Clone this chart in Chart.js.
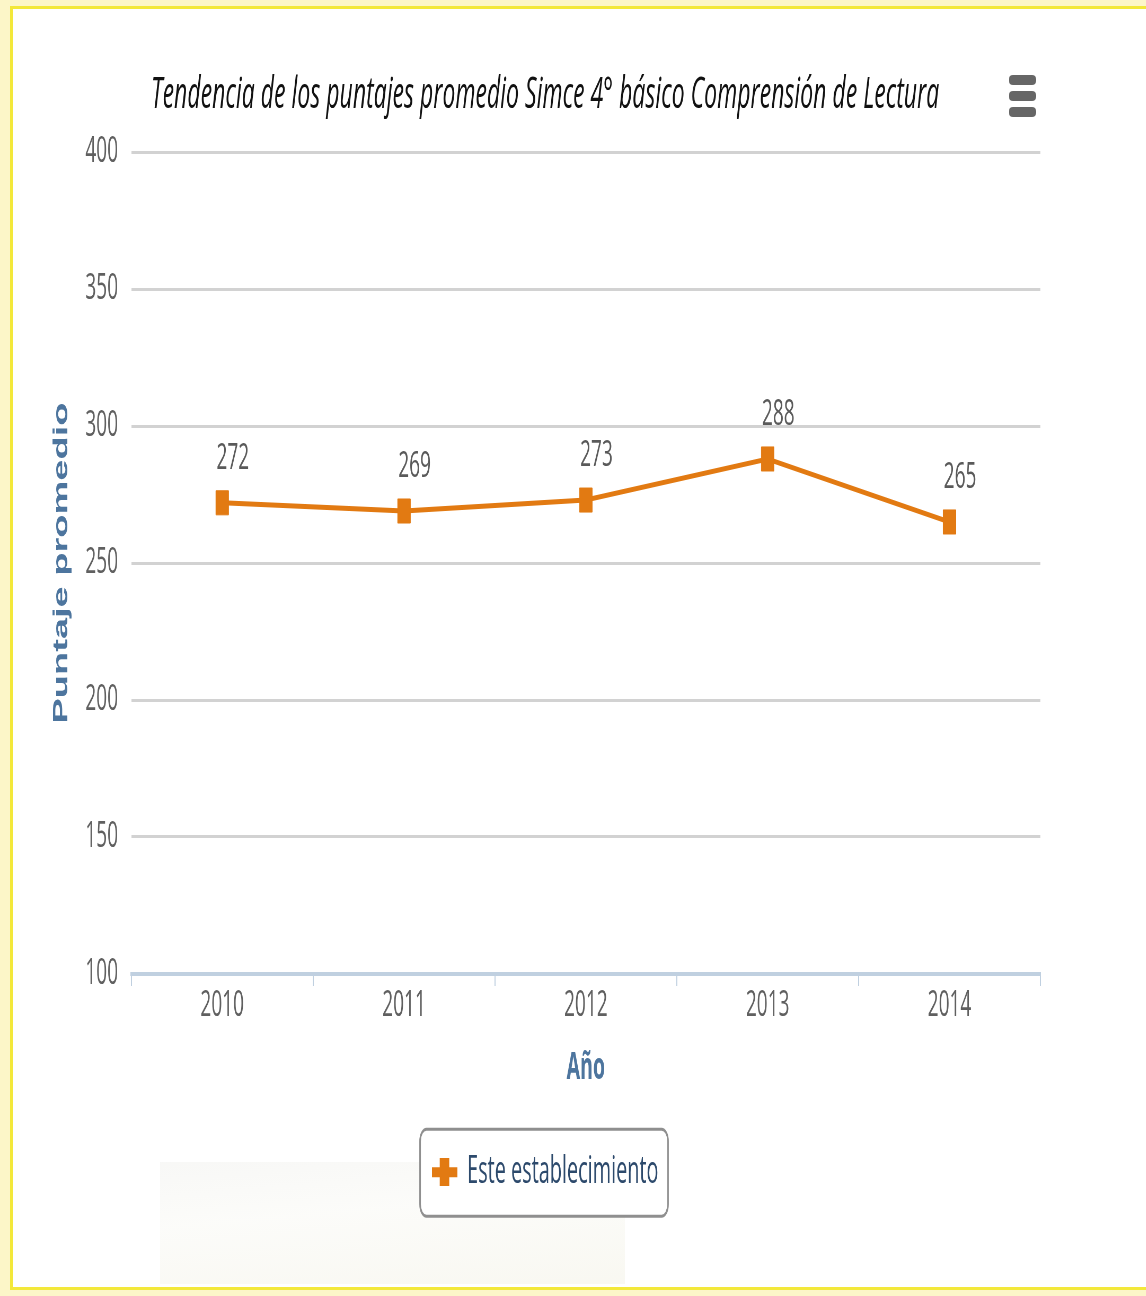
<!DOCTYPE html>
<html lang="es">
<head>
<meta charset="UTF-8">
<title>Tendencia Simce</title>
<script src="https://cdn.jsdelivr.net/npm/chart.js"></script>
<style>
    html, body { margin: 0; padding: 0; width: 1146px; height: 1296px; overflow: hidden; background: #fcf6c8; }
    #frame { position: absolute; left: 10px; top: 6px; width: 1150px; height: 1278px; background: #fff;
             border-left: 3px solid #f3e83a; border-top: 3px solid #f3e83a; border-bottom: 3px solid #f3e83a; }
    #ghost { position: absolute; left: 160px; top: 1162px; width: 465px; height: 122px;
             background: linear-gradient(175deg, #f6f6f4 0%, #fbfbf8 40%, #f7f6ee 100%); opacity: 0.8; }
    #wrap { position: absolute; left: 0; top: 0; width: 2162px; height: 1296px; transform: scaleX(0.53); transform-origin: 0 0; }
    #menu { position: absolute; left: 1009px; top: 75px; width: 27px; }
    #menu div { height: 10px; background: #666; border-radius: 4px; margin-bottom: 6px; }
</style>
</head>
<body>
<div id="frame"></div>
<div id="ghost"></div>
<div id="wrap"><canvas id="chart" width="2162" height="1296"></canvas></div>
<div id="menu"><div></div><div></div><div></div></div>
<script>
    const years = ['2010', '2011', '2012', '2013', '2014'];
    const scores = [272, 269, 273, 288, 265];
    const seriesName = 'Este establecimiento';
    const chartTitle = 'Tendencia de los puntajes promedio Simce 4° básico Comprensión de Lectura';

    const ORANGE = '#e27a12';
    const FONT = '"Open Sans", "Liberation Sans", sans-serif';

    // legend symbol: short line with a square marker, looks like a plus
    const sym = document.createElement('canvas');
    sym.width = 48; sym.height = 28;
    const sctx = sym.getContext('2d');
    sctx.fillStyle = ORANGE;
    sctx.fillRect(0, 9, 48, 10);
    sctx.fillRect(15, 0, 18, 28);

    const dataLabels = {
        id: 'dataLabels',
        afterDatasetsDraw(chart) {
            const ctx = chart.ctx;
            const meta = chart.getDatasetMeta(0);
            ctx.save();
            ctx.font = '36px ' + FONT;
            ctx.fillStyle = '#5a5a5a';
            ctx.textAlign = 'center';
            ctx.textBaseline = 'middle';
            meta.data.forEach((pt, i) => {
                ctx.fillText(String(scores[i]), pt.x + 20, pt.y - 44);
            });
            ctx.restore();
        }
    };

    function legendRect(chart) {
        const hb = chart.legend.legendHitBoxes[0];
        if (!hb) return null;
        const cy = hb.top + hb.height / 2;
        return { x: hb.left - 22, y: cy - 43, w: hb.width + 40, h: 87 };
    }

    const legendBorder = {
        id: 'legendBorder',
        beforeDraw(chart) {
            const r = legendRect(chart);
            if (!r) return;
            const ctx = chart.ctx;
            ctx.save();
            ctx.beginPath();
            ctx.roundRect(r.x, r.y, r.w, r.h, 12);
            ctx.fillStyle = '#fff';
            ctx.fill();
            ctx.restore();
        },
        afterDraw(chart) {
            const r = legendRect(chart);
            if (!r) return;
            const ctx = chart.ctx;
            ctx.save();
            ctx.beginPath();
            ctx.roundRect(r.x, r.y, r.w, r.h, 12);
            ctx.lineWidth = 3;
            ctx.strokeStyle = '#8f8f8f';
            ctx.stroke();
            ctx.restore();
        }
    };

    new Chart(document.getElementById('chart'), {
        type: 'line',
        data: {
            labels: years,
            datasets: [{
                label: seriesName,
                data: scores,
                borderColor: ORANGE,
                backgroundColor: ORANGE,
                borderWidth: 5,
                pointStyle: 'rect',
                pointRadius: 17,
                pointBorderWidth: 1,
                pointBackgroundColor: ORANGE,
                pointBorderColor: ORANGE,
                tension: 0
            }]
        },
        options: {
            responsive: false,
            animation: false,
            devicePixelRatio: 1,
            layout: { padding: { left: 94, right: 199, top: 50, bottom: 95 } },
            scales: {
                x: {
                    offset: true,
                    grid: { offset: true, drawOnChartArea: false, drawTicks: true, tickLength: 12, color: '#c0d0e0', lineWidth: 2 },
                    border: { display: true, color: '#c0d0e0', width: 4 },
                    ticks: { color: '#606060', font: { family: FONT, size: 36 }, padding: -2 },
                    title: { display: true, text: 'Año', color: '#4d759e', font: { family: FONT, size: 37, weight: 'bold' }, padding: { top: 21, bottom: 53 } }
                },
                y: {
                    min: 100,
                    max: 400,
                    ticks: { stepSize: 50, color: '#606060', font: { family: FONT, size: 36 }, padding: 25 },
                    grid: { drawTicks: false, lineWidth: 3, color: (c) => c.tick && c.tick.value === 100 ? 'rgba(0,0,0,0)' : '#d2d2d2' },
                    border: { display: false },
                    title: { display: true, text: 'Puntaje promedio', color: '#4d759e', font: { family: '"Liberation Sans", Arial, sans-serif', size: 38, weight: 'bold', lineHeight: 1.0 }, padding: { top: 4, bottom: 0 } }
                }
            },
            plugins: {
                title: {
                    display: true,
                    text: chartTitle,
                    color: '#111',
                    font: { family: FONT, size: 43.5, style: 'italic', weight: 'normal' },
                    padding: { top: 20, bottom: 30 }
                },
                legend: {
                    display: true,
                    position: 'bottom',
                    labels: {
                        usePointStyle: true,
                        pointStyle: sym,
                        pointStyleWidth: 48,
                        color: '#2d4a6c',
                        font: { family: FONT, size: 37.5 },
                        padding: 10
                    }
                },
                tooltip: { enabled: false }
            }
        },
        plugins: [dataLabels, legendBorder]
    });
</script>
</body>
</html>
